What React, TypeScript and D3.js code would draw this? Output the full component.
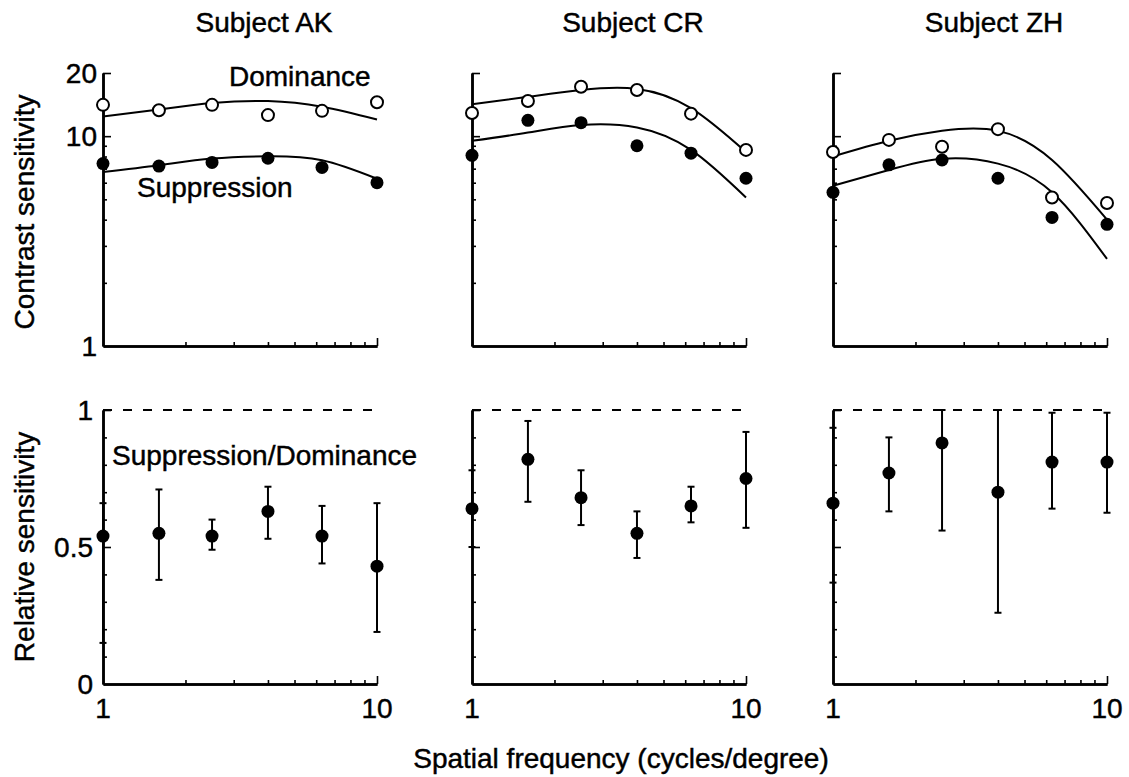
import React, { useEffect, useRef } from "react";
import * as d3 from "d3";

// spatial frequencies (cycles/degree)
const freqs = [1, 1.6, 2.5, 4, 6.3, 10];
const subjects = ["AK", "CR", "ZH"];

// contrast sensitivity, open = dominance, filled = suppression
const domAK = [14.1, 13.3, 14.1, 12.6, 13.2, 14.5];
const supAK = [7.4, 7.2, 7.5, 7.85, 7.1, 6.0];
const domFitAK = [12.4, 13.4, 14.4, 14.7, 13.8, 12.0];
const supFitAK = [6.75, 7.27, 7.82, 8.02, 7.68, 6.27];

const domCR = [12.9, 14.7, 17.2, 16.6, 12.8, 8.6];
const supCR = [8.1, 11.9, 11.6, 9.0, 8.3, 6.3];
const domFitCR = [14.2, 15.4, 16.6, 16.8, 13.6, 8.4];
const supFitCR = [9.5, 10.4, 11.3, 11.0, 8.6, 5.1];

const domZH = [8.4, 9.6, 8.9, 10.8, 5.1, 4.8];
const supZH = [5.4, 7.3, 7.7, 6.3, 4.1, 3.8];
const domFitZH = [8.0, 9.5, 10.6, 10.6, 7.7, 4.0];
const supFitZH = [5.8, 6.9, 7.8, 7.4, 5.4, 2.6];

// relative sensitivity (suppression / dominance) with error ranges
const ratioAK = [0.54, 0.55, 0.54, 0.63, 0.54, 0.43];
const ratioLoAK = [0.15, 0.38, 0.49, 0.53, 0.44, 0.19];
const ratioHiAK = [0.66, 0.71, 0.6, 0.72, 0.65, 0.66];

const ratioCR = [0.64, 0.82, 0.68, 0.55, 0.65, 0.75];
const ratioLoCR = [0.5, 0.665, 0.58, 0.46, 0.59, 0.57];
const ratioHiCR = [0.78, 0.96, 0.78, 0.63, 0.72, 0.92];

const ratioZH = [0.66, 0.77, 0.88, 0.7, 0.81, 0.81];
const ratioLoZH = [0.37, 0.63, 0.56, 0.26, 0.64, 0.625];
const ratioHiZH = [0.935, 0.9, 1.0, 1.0, 0.99, 0.99];

// ticks
const csMinorTicks = [2, 3, 4, 5, 6, 7, 8, 9];
const csMajorTicks = [10, 20];
const csLabels = [1, 10, 20];
const relMinorTicks = [0.1, 0.2, 0.3, 0.4, 0.6, 0.7, 0.8, 0.9];
const relMajorTicks = [0.5, 1];
const relLabels = [0, 0.5, 1];
const freqMinorTicks = [2, 3, 4, 5, 6, 7, 8, 9];
const freqMajorTicks = [10];
const freqLabels = [1, 10];

const panels = [
  { dom: domAK, sup: supAK, domFit: domFitAK, supFit: supFitAK, ratio: ratioAK, lo: ratioLoAK, hi: ratioHiAK },
  { dom: domCR, sup: supCR, domFit: domFitCR, supFit: supFitCR, ratio: ratioCR, lo: ratioLoCR, hi: ratioHiCR },
  { dom: domZH, sup: supZH, domFit: domFitZH, supFit: supFitZH, ratio: ratioZH, lo: ratioLoZH, hi: ratioHiZH },
];

const FONT = "'Liberation Sans', Arial, Helvetica, sans-serif";
const FS = "28px";

const Chart = () => {
  const ref = useRef<SVGSVGElement>(null);

  useEffect(() => {
    const svg = d3.select(ref.current);
    svg.selectAll("*").remove();

    const lefts = [103, 472, 833];
    const pw = 274;
    const topY = [73, 346];
    const botY = [410, 684];

    const y1 = d3.scaleLog().domain([1, 20]).range([topY[1], topY[0]]);
    const y2 = d3.scaleLinear().domain([0, 1]).range([botY[1], botY[0]]);

    const styleAxis = (g, w = 2.5) => {
      g.selectAll("path").attr("stroke", "#000").attr("stroke-width", w);
      g.selectAll("line").attr("stroke", "#000").attr("stroke-width", 1.6);
      g.selectAll("text").remove();
    };

    // all text shares one look: slightly heavy sans, like the scanned original
    const txt = sel => sel
      .style("font-family", FONT)
      .style("font-size", FS)
      .attr("stroke", "#000")
      .attr("stroke-width", 0.45);

    panels.forEach((p, i) => {
      const left = lefts[i];
      const x = d3.scaleLog().domain([1, 10]).range([left, left + pw]);

      // title
      svg.append("text")
        .attr("x", left + pw / 2 + 24)
        .attr("y", 32)
        .attr("text-anchor", "middle")
        .call(txt)
        .text(`Subject ${subjects[i]}`);

      // ---- top panel axes
      const gy = svg.append("g").attr("transform", `translate(${left},0)`);
      gy.call(d3.axisRight(y1).tickValues(csMinorTicks).tickSize(4).tickSizeOuter(0));
      styleAxis(gy);
      const gy2 = svg.append("g").attr("transform", `translate(${left},0)`);
      gy2.call(d3.axisRight(y1).tickValues(csMajorTicks).tickSize(8).tickSizeOuter(0));
      styleAxis(gy2);

      const gx = svg.append("g").attr("transform", `translate(0,${topY[1]})`);
      gx.call(d3.axisTop(x).tickValues(freqMinorTicks).tickSize(4).tickSizeOuter(0));
      styleAxis(gx);
      const gx2 = svg.append("g").attr("transform", `translate(0,${topY[1]})`);
      gx2.call(d3.axisTop(x).tickValues(freqMajorTicks).tickSize(8).tickSizeOuter(0));
      styleAxis(gx2);

      if (i === 0) {
        svg.selectAll(null)
          .data(csLabels)
          .enter()
          .append("text")
          .attr("x", left - 6)
          .attr("y", d => y1(d))
          .attr("dy", "0.36em")
          .attr("text-anchor", "end")
          .call(txt)
          .text(d => d);
      }

      // fitted curves
      const line = d3.line<number>()
        .x((d, k) => x(freqs[k]))
        .y(d => y1(d))
        .curve(d3.curveNatural);
      [p.domFit, p.supFit].forEach(fit => {
        svg.append("path")
          .attr("d", line(fit))
          .attr("fill", "none")
          .attr("stroke", "#000")
          .attr("stroke-width", 2);
      });

      // suppression points
      svg.selectAll(null)
        .data(p.sup)
        .enter()
        .append("circle")
        .attr("cx", (d, k) => x(freqs[k]))
        .attr("cy", d => y1(d))
        .attr("r", 6.5)
        .attr("fill", "#000");

      // dominance points
      svg.selectAll(null)
        .data(p.dom)
        .enter()
        .append("circle")
        .attr("cx", (d, k) => x(freqs[k]))
        .attr("cy", d => y1(d))
        .attr("r", 6)
        .attr("fill", "#fff")
        .attr("stroke", "#000")
        .attr("stroke-width", 2);

      // ---- bottom panel axes
      const by = svg.append("g").attr("transform", `translate(${left},0)`);
      by.call(d3.axisRight(y2).tickValues(relMinorTicks).tickSize(4).tickSizeOuter(0));
      styleAxis(by);
      const by2 = svg.append("g").attr("transform", `translate(${left},0)`);
      by2.call(d3.axisRight(y2).tickValues(relMajorTicks).tickSize(8).tickSizeOuter(0));
      styleAxis(by2);

      const bx = svg.append("g").attr("transform", `translate(0,${botY[1]})`);
      bx.call(d3.axisTop(x).tickValues(freqMinorTicks).tickSize(4).tickSizeOuter(0));
      styleAxis(bx);
      const bx2 = svg.append("g").attr("transform", `translate(0,${botY[1]})`);
      bx2.call(d3.axisTop(x).tickValues(freqMajorTicks).tickSize(8).tickSizeOuter(0));
      styleAxis(bx2);

      // dashed reference at 1
      svg.append("line")
        .attr("x1", x(1))
        .attr("x2", x(10))
        .attr("y1", y2(1))
        .attr("y2", y2(1))
        .attr("stroke", "#000")
        .attr("stroke-width", 2)
        .attr("stroke-dasharray", "9,11");

      if (i === 0) {
        svg.selectAll(null)
          .data(relLabels)
          .enter()
          .append("text")
          .attr("x", left - 10)
          .attr("y", d => y2(d))
          .attr("dy", "0.36em")
          .attr("text-anchor", "end")
          .call(txt)
          .text(d => d);
      }

      svg.selectAll(null)
        .data(freqLabels)
        .enter()
        .append("text")
        .attr("x", d => x(d))
        .attr("y", 718)
        .attr("text-anchor", "middle")
        .call(txt)
        .text(d => d);

      // error bars
      const eb = svg.append("g").attr("stroke", "#000").attr("stroke-width", 2);
      p.ratio.forEach((r, k) => {
        const cx = x(freqs[k]);
        eb.append("line")
          .attr("x1", cx).attr("x2", cx)
          .attr("y1", y2(p.lo[k])).attr("y2", y2(p.hi[k]));
        [p.lo[k], p.hi[k]].forEach(v => {
          eb.append("line")
            .attr("x1", cx - 3.5).attr("x2", cx + 3.5)
            .attr("y1", y2(v)).attr("y2", y2(v));
        });
      });

      svg.selectAll(null)
        .data(p.ratio)
        .enter()
        .append("circle")
        .attr("cx", (d, k) => x(freqs[k]))
        .attr("cy", d => y2(d))
        .attr("r", 6.5)
        .attr("fill", "#000");
    });

    // annotations
    const note = (t, xx, yy) =>
      svg.append("text")
        .attr("x", xx)
        .attr("y", yy)
        .call(txt)
        .text(t);
    note("Dominance", 229, 86);
    note("Suppression", 137, 197);
    note("Suppression/Dominance", 112, 465);

    // axis titles
    svg.append("text")
      .attr("transform", "translate(34,212) rotate(-90)")
      .attr("text-anchor", "middle")
      .call(txt)
      .text("Contrast sensitivity");
    svg.append("text")
      .attr("transform", "translate(34,547) rotate(-90)")
      .attr("text-anchor", "middle")
      .call(txt)
      .text("Relative sensitivity");
    svg.append("text")
      .attr("x", 621)
      .attr("y", 768)
      .attr("text-anchor", "middle")
      .call(txt)
      .text("Spatial frequency (cycles/degree)");
  }, []);

  return <svg ref={ref} width={1129} height={777} style={{ display: "block", background: "#fff" }} />;
};

export default function App() {
  return (
    <div style={{ position: "absolute", left: 0, top: 0 }}>
      <Chart />
    </div>
  );
}
